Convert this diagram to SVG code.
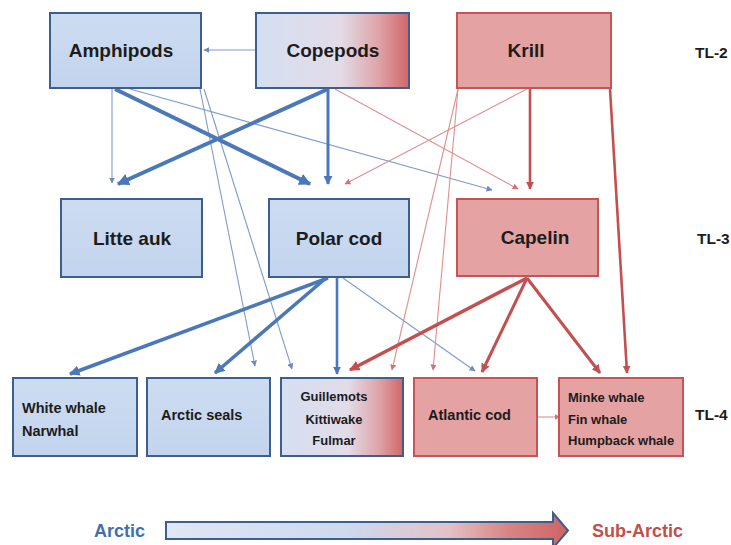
<svg xmlns="http://www.w3.org/2000/svg" width="731" height="545" viewBox="0 0 731 545">
  <style>
    .bbox { fill: url(#blueFill); stroke: #3d5f8e; stroke-width: 2; }
    .rbox { fill: #e4a2a2; stroke: #c65454; stroke-width: 2; }
    .mbox { fill: url(#mixFill); stroke: #3d5f8e; stroke-width: 2; }
    .lbl { font-family: "Liberation Sans", Arial, sans-serif; font-weight: bold; fill: #1c1c1c; }
    .big { font-size: 19px; text-anchor: middle; }
    .mid { font-size: 14.5px; }
    .sm { font-size: 13px; }
    .tl { font-family: "Liberation Sans", Arial, sans-serif; font-weight: bold; font-size: 15.5px; fill: #1c1c1c; }
    .bl { stroke: #4a78b8; fill: none; }
    .blt { stroke: #7e9ccb; fill: none; stroke-width: 1.1; }
    .rd { stroke: #c34f4f; fill: none; }
    .rdt { stroke: #df8f8f; fill: none; stroke-width: 1.1; }
  </style>
  <defs>
    <linearGradient id="blueFill" x1="0" y1="0" x2="0" y2="1">
      <stop offset="0" stop-color="#cddcf1"/>
      <stop offset="1" stop-color="#c2d4ee"/>
    </linearGradient>
    <linearGradient id="mixFill" x1="0" y1="0" x2="1" y2="0">
      <stop offset="0" stop-color="#d5dff2"/>
      <stop offset="0.55" stop-color="#e2dce8"/>
      <stop offset="0.8" stop-color="#dea4a8"/>
      <stop offset="1" stop-color="#d16668"/>
    </linearGradient>
    <linearGradient id="barFill" x1="0" y1="0" x2="1" y2="0">
      <stop offset="0" stop-color="#e0e7f5"/>
      <stop offset="0.45" stop-color="#cdd9ef"/>
      <stop offset="0.7" stop-color="#e2c2c8"/>
      <stop offset="0.85" stop-color="#d98585"/>
      <stop offset="1" stop-color="#cf6363"/>
    </linearGradient>
    <marker id="hbB" viewBox="0 0 10 10" refX="9" refY="5" markerWidth="3" markerHeight="3" orient="auto">
      <path d="M0,0 L10,5 L0,10 z" fill="#4a78b8"/>
    </marker>
    <marker id="hbS" viewBox="0 0 10 10" refX="9" refY="5" markerWidth="5.5" markerHeight="5.5" orient="auto">
      <path d="M0,0 L10,5 L0,10 z" fill="#6a8cc2"/>
    </marker>
    <marker id="hrB" viewBox="0 0 10 10" refX="9" refY="5" markerWidth="3" markerHeight="3" orient="auto">
      <path d="M0,0 L10,5 L0,10 z" fill="#c34f4f"/>
    </marker>
    <marker id="hrS" viewBox="0 0 10 10" refX="9" refY="5" markerWidth="5.5" markerHeight="5.5" orient="auto">
      <path d="M0,0 L10,5 L0,10 z" fill="#d67070"/>
    </marker>
  </defs>

  <rect width="731" height="545" fill="#ffffff"/>

  <!-- feeding links -->
  <g id="connectors">
    <!-- Arctic links -->
    <line class="blt" x1="256" y1="50" x2="204" y2="50" marker-end="url(#hbS)"/>
    <line class="blt" x1="112" y1="89" x2="112" y2="183" marker-end="url(#hbS)"/>
    <line class="blt" x1="130" y1="89" x2="492" y2="190" marker-end="url(#hbS)"/>
    <line class="blt" x1="200" y1="89" x2="255" y2="366" marker-end="url(#hbS)"/>
    <line class="blt" x1="204" y1="89" x2="292" y2="369" marker-end="url(#hbS)"/>
    <line class="blt" x1="343" y1="278" x2="475" y2="371" marker-end="url(#hbS)"/>
    <line class="bl" stroke-width="4" x1="115" y1="89" x2="310" y2="184" marker-end="url(#hbB)"/>
    <line class="bl" stroke-width="4" x1="328" y1="89" x2="118" y2="184" marker-end="url(#hbB)"/>
    <line class="bl" stroke-width="3" x1="328" y1="89" x2="328" y2="184" marker-end="url(#hbB)"/>
    <line class="bl" stroke-width="3.5" x1="328" y1="278" x2="70" y2="374" marker-end="url(#hbB)"/>
    <line class="bl" stroke-width="3.5" x1="326" y1="278" x2="215" y2="373" marker-end="url(#hbB)"/>
    <line class="bl" stroke-width="2.6" x1="337" y1="278" x2="337" y2="374" marker-end="url(#hbB)"/>
    <!-- sub-Arctic links -->
    <line class="rdt" x1="335" y1="89" x2="518" y2="189" marker-end="url(#hrS)"/>
    <line class="rdt" x1="527" y1="89" x2="345" y2="184" marker-end="url(#hrS)"/>
    <line class="rdt" x1="458" y1="89" x2="392" y2="370" marker-end="url(#hrS)"/>
    <line class="rdt" x1="458" y1="89" x2="433" y2="370" marker-end="url(#hrS)"/>
    <line class="rdt" x1="537" y1="417" x2="560" y2="417" marker-end="url(#hrS)"/>
    <line class="rd" stroke-width="2.6" x1="530" y1="89" x2="530" y2="189" marker-end="url(#hrB)"/>
    <line class="rd" stroke-width="2.6" x1="610" y1="89" x2="627" y2="373" marker-end="url(#hrB)"/>
    <line class="rd" stroke-width="3.5" x1="527" y1="278" x2="350" y2="370" marker-end="url(#hrB)"/>
    <line class="rd" stroke-width="3" x1="527" y1="278" x2="482" y2="372" marker-end="url(#hrB)"/>
    <line class="rd" stroke-width="3" x1="527" y1="278" x2="600" y2="373" marker-end="url(#hrB)"/>
  </g>

  <!-- TL-2 -->
  <g id="amphipods">
    <rect class="bbox" x="50" y="13" width="151" height="75"/>
    <text class="lbl big" x="121" y="57">Amphipods</text>
  </g>
  <g id="copepods">
    <rect class="mbox" x="256" y="13" width="153" height="75"/>
    <text class="lbl big" x="333" y="57">Copepods</text>
  </g>
  <g id="krill">
    <rect class="rbox" x="457" y="13" width="154" height="75"/>
    <text class="lbl big" x="526" y="57">Krill</text>
  </g>

  <!-- TL-3 -->
  <g id="litte-auk">
    <rect class="bbox" x="61" y="199" width="141" height="78"/>
    <text class="lbl big" x="132" y="245">Litte auk</text>
  </g>
  <g id="polar-cod">
    <rect class="bbox" x="269" y="199" width="140" height="78"/>
    <text class="lbl big" x="339" y="245">Polar cod</text>
  </g>
  <g id="capelin">
    <rect class="rbox" x="457" y="199" width="141" height="77"/>
    <text class="lbl big" x="535" y="244">Capelin</text>
  </g>

  <!-- TL-4 -->
  <g id="white-whale">
    <rect class="bbox" x="13" y="378" width="124" height="78"/>
    <text class="lbl mid" x="22" y="413">White whale</text>
    <text class="lbl mid" x="22" y="436">Narwhal</text>
  </g>
  <g id="arctic-seals">
    <rect class="bbox" x="147" y="378" width="123" height="78"/>
    <text class="lbl mid" x="161" y="420">Arctic seals</text>
  </g>
  <g id="seabirds">
    <rect class="mbox" x="281" y="378" width="122" height="78"/>
    <text class="lbl sm" x="334" y="401" text-anchor="middle">Guillemots</text>
    <text class="lbl sm" x="334" y="424" text-anchor="middle">Kittiwake</text>
    <text class="lbl sm" x="334" y="445" text-anchor="middle">Fulmar</text>
  </g>
  <g id="atlantic-cod">
    <rect class="rbox" x="414" y="378" width="123" height="78"/>
    <text class="lbl mid" x="428" y="420">Atlantic cod</text>
  </g>
  <g id="whales">
    <rect class="rbox" x="559" y="378" width="124" height="78"/>
    <text class="lbl sm" x="568" y="402">Minke whale</text>
    <text class="lbl sm" x="568" y="424">Fin whale</text>
    <text class="lbl sm" x="568" y="445">Humpback whale</text>
  </g>

  <!-- trophic level labels -->
  <g id="levels">
    <text class="tl" x="695" y="58">TL-2</text>
    <text class="tl" x="697" y="244">TL-3</text>
    <text class="tl" x="695" y="420">TL-4</text>
  </g>

  <!-- gradient axis -->
  <g id="axis">
    <text x="94" y="537" font-family="Liberation Sans, Arial, sans-serif" font-weight="bold" font-size="18" fill="#4170b0">Arctic</text>
    <polygon points="166,522 553,522 553,513 568,530.5 553,548 553,539 166,539" fill="url(#barFill)" stroke="#3d5f8e" stroke-width="2" stroke-linejoin="miter"/>
    <text x="592" y="537" font-family="Liberation Sans, Arial, sans-serif" font-weight="bold" font-size="18" fill="#c0504d">Sub-Arctic</text>
  </g>
</svg>
